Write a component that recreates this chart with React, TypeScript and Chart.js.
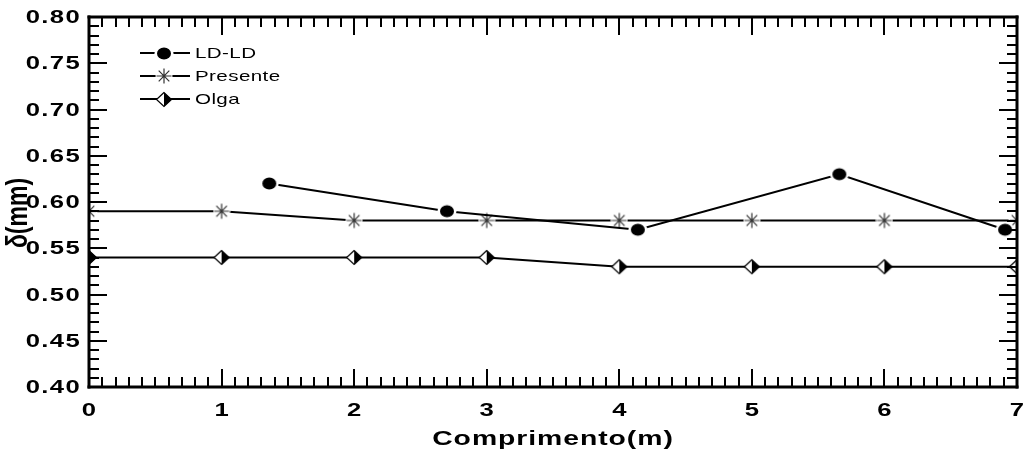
import { useEffect, useRef } from 'react';
import { Chart, registerables } from 'chart.js';

Chart.register(...registerables);

// ---- data ----
const ldldX = [1.36, 2.7, 4.14, 5.66, 6.91];
const ldldY = [0.62, 0.59, 0.57, 0.63, 0.57];
const presenteX = [0, 1, 2, 3, 4, 5, 6, 7];
const presenteY = [0.59, 0.59, 0.58, 0.58, 0.58, 0.58, 0.58, 0.58];
const olgaX = [0, 1, 2, 3, 4, 5, 6, 7];
const olgaY = [0.54, 0.54, 0.54, 0.54, 0.53, 0.53, 0.53, 0.53];
const seriesNames = ['LD-LD', 'Presente', 'Olga'];
const xTickValues = [0, 1, 2, 3, 4, 5, 6, 7];
const xTickLabels = ['0', '1', '2', '3', '4', '5', '6', '7'];
const yTickValues = [0.4, 0.45, 0.5, 0.55, 0.6, 0.65, 0.7, 0.75, 0.8];
const yTickLabels = ['0.40', '0.45', '0.50', '0.55', '0.60', '0.65', '0.70', '0.75', '0.80'];
const xTitle = 'Comprimento(m)';
const yTitle = 'δ(mm)';

const SX = 1.35;
const FONT = '"Liberation Sans", Arial, sans-serif';

function makeCircle() {
  const c = document.createElement('canvas');
  c.width = 20; c.height = 17;
  const g = c.getContext('2d')!;
  g.fillStyle = '#fff';
  g.beginPath(); g.ellipse(10, 8.5, 9.5, 7.5, 0, 0, Math.PI * 2); g.fill();
  g.fillStyle = '#000';
  g.beginPath(); g.ellipse(10, 8.5, 7, 6, 0, 0, Math.PI * 2); g.fill();
  return c;
}
function makeStar() {
  const c = document.createElement('canvas');
  c.width = 18; c.height = 18;
  const g = c.getContext('2d')!;
  g.fillStyle = '#fff';
  g.beginPath(); g.arc(9, 9, 8.5, 0, Math.PI * 2); g.fill();
  g.strokeStyle = '#333'; g.lineWidth = 1.2;
  const r = 7.5;
  g.beginPath();
  for (let k = 0; k < 4; k++) {
    const a = (k * Math.PI) / 4;
    g.moveTo(9 - r * Math.cos(a), 9 - r * Math.sin(a));
    g.lineTo(9 + r * Math.cos(a), 9 + r * Math.sin(a));
  }
  g.stroke();
  return c;
}
function makeDiamond() {
  const c = document.createElement('canvas');
  c.width = 18; c.height = 17;
  const g = c.getContext('2d')!;
  const cx = 9, cy = 8.5, w = 7.5, h = 7;
  g.fillStyle = '#fff';
  g.beginPath(); g.moveTo(cx, cy - h); g.lineTo(cx - w, cy); g.lineTo(cx, cy + h); g.closePath(); g.fill();
  g.fillStyle = '#000';
  g.beginPath(); g.moveTo(cx, cy - h); g.lineTo(cx + w, cy); g.lineTo(cx, cy + h); g.closePath(); g.fill();
  g.strokeStyle = '#000'; g.lineWidth = 1.2;
  g.beginPath(); g.moveTo(cx, cy - h); g.lineTo(cx - w, cy); g.lineTo(cx, cy + h); g.lineTo(cx + w, cy); g.closePath(); g.stroke();
  return c;
}

function sText(ctx: CanvasRenderingContext2D, text: string, x: number, y: number, font: string,
  align: CanvasTextAlign, baseline: CanvasTextBaseline, sx: number, ls: number) {
  ctx.save();
  ctx.font = font;
  (ctx as any).letterSpacing = ls + 'px';
  ctx.textAlign = align;
  ctx.textBaseline = baseline;
  ctx.fillStyle = '#000';
  ctx.translate(x, y);
  ctx.scale(sx, 1);
  ctx.fillText(text, 0, 0);
  ctx.restore();
}

export default function App() {
  const ref = useRef<HTMLCanvasElement | null>(null);
  useEffect(() => {
    if (!ref.current) return;
    const circle = makeCircle();
    const star = makeStar();
    const diamond = makeDiamond();
    const markers = [circle, star, diamond];

    const framePlugin = {
      id: 'frameTicks',
      afterDraw(chart: any) {
        const ctx: CanvasRenderingContext2D = chart.ctx;
        const ca = chart.chartArea;
        const L = ca.left, R = ca.right, T = ca.top, B = ca.bottom;
        const xs = chart.scales.x, ys = chart.scales.y;
        ctx.save();
        ctx.fillStyle = '#000';
        // inward ticks: x minor every 0.1, major every 1
        for (let i = 0; i <= 70; i++) {
          const px = Math.round(xs.getPixelForValue(i / 10));
          const len = i % 10 === 0 ? 18 : 10;
          ctx.fillRect(px - 1, B - len, 2, len);
          ctx.fillRect(px - 1, T, 2, len);
        }
        // inward ticks: y minor every 0.01, major every 0.05
        for (let i = 40; i <= 80; i++) {
          const py = Math.round(ys.getPixelForValue(i / 100));
          const len = i % 5 === 0 ? 18 : 10;
          ctx.fillRect(L, py - 1, len, 2);
          ctx.fillRect(R - len, py - 1, len, 2);
        }
        // frame
        ctx.fillRect(L - 1.5, T - 1.5, R - L + 3, 3);
        ctx.fillRect(L - 1.5, B - 1.5, R - L + 3, 3);
        ctx.fillRect(L - 1.5, T - 1.5, 3, B - T + 3);
        ctx.fillRect(R - 1.5, T - 1.5, 3, B - T + 3);
        ctx.restore();

        const tickFont = `bold 19px ${FONT}`;
        xTickValues.forEach((v, i) => {
          sText(ctx, xTickLabels[i], xs.getPixelForValue(v), 416, tickFont, 'center', 'alphabetic', SX, 0);
        });
        yTickValues.forEach((v, i) => {
          sText(ctx, yTickLabels[i], 81, ys.getPixelForValue(v) + 1, tickFont, 'right', 'middle', SX, 1);
        });
        sText(ctx, xTitle, (L + R) / 2, 445, `bold 21px ${FONT}`, 'center', 'alphabetic', SX, 0.7);

        ctx.save();
        ctx.font = `bold 23px ${FONT}`;
        ctx.textAlign = 'center';
        ctx.textBaseline = 'middle';
        ctx.fillStyle = '#000';
        ctx.translate(19, 213);
        ctx.rotate(-Math.PI / 2);
        ctx.scale(1, 1.3);
        ctx.fillText(yTitle, 0, 0);
        ctx.restore();

        // legend
        const rows = [53, 76, 99];
        seriesNames.forEach((name, i) => {
          const yy = rows[i];
          ctx.save();
          ctx.fillStyle = '#000';
          ctx.fillRect(140, yy - 1, 50, 2);
          const m = markers[i];
          ctx.drawImage(m, Math.round(164 - m.width / 2), Math.round(yy - m.height / 2));
          ctx.restore();
          sText(ctx, name, 195, yy + 1, `15px ${FONT}`, 'left', 'middle', 1.37, 0.3);
        });
      },
    };

    const mk = (xv: number[], yv: number[]) => xv.map((x, i) => ({ x, y: yv[i] }));
    const chart = new Chart(ref.current, {
      type: 'line',
      data: {
        datasets: [
          { label: seriesNames[0], data: mk(ldldX, ldldY), borderColor: '#000', borderWidth: 2, pointStyle: circle as any, pointRadius: 7, clip: 0 as any },
          { label: seriesNames[1], data: mk(presenteX, presenteY), borderColor: '#000', borderWidth: 2, pointStyle: star as any, pointRadius: 7, clip: 0 as any },
          { label: seriesNames[2], data: mk(olgaX, olgaY), borderColor: '#000', borderWidth: 2, pointStyle: diamond as any, pointRadius: 7, clip: 0 as any },
        ],
      },
      options: {
        animation: false,
        responsive: false,
        devicePixelRatio: 1,
        layout: { padding: { left: 89, right: 4, top: 17, bottom: 66 } },
        scales: {
          x: { type: 'linear', min: 0, max: 7, display: false },
          y: { type: 'linear', min: 0.4, max: 0.8, display: false },
        },
        plugins: { legend: { display: false }, tooltip: { enabled: false } },
        elements: { line: { tension: 0 } },
      },
      plugins: [framePlugin],
    });
    return () => chart.destroy();
  }, []);
  return (
    <div style={{ position: 'absolute', left: 0, top: 0, width: 1026, height: 453, overflow: 'hidden', background: '#fff' }}>
      <canvas ref={ref} width={1026} height={453} />
    </div>
  );
}
